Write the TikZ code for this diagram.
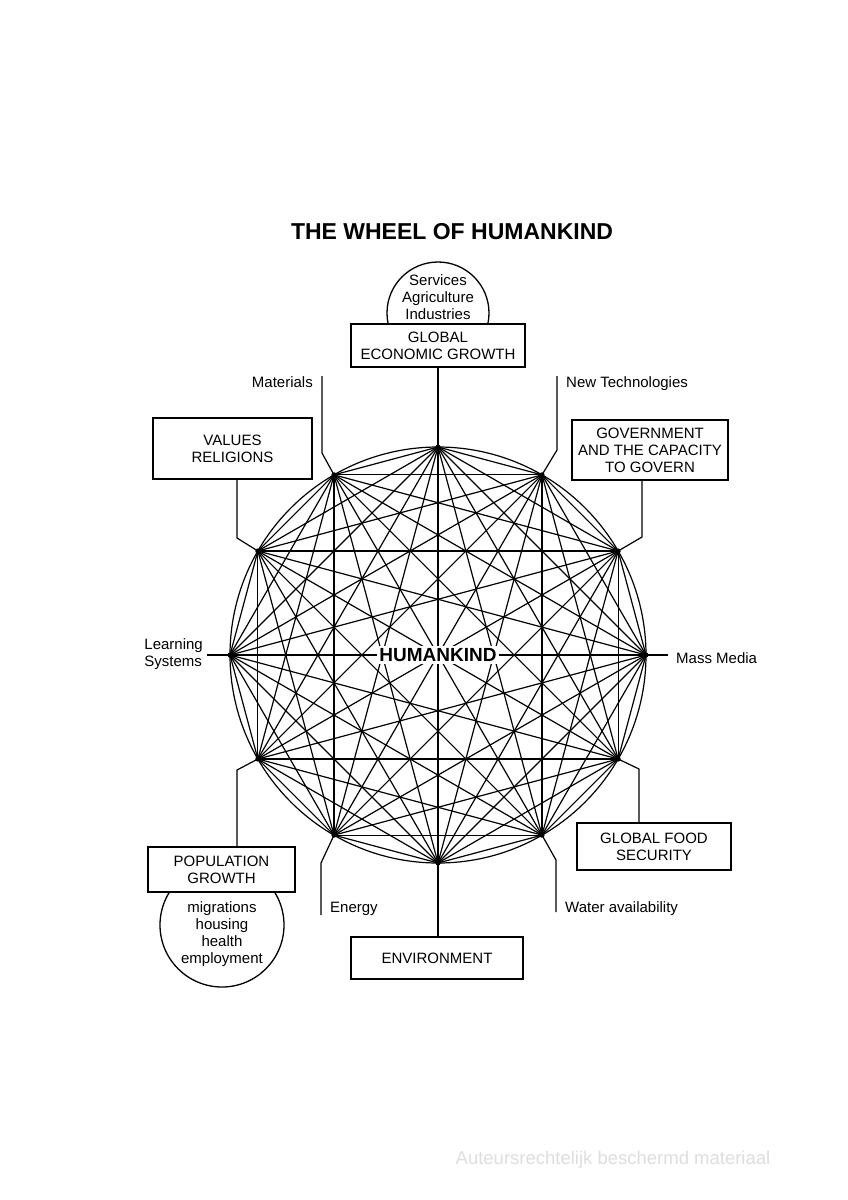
\documentclass[tikz,border=0pt]{standalone}
\usepackage{fontspec}
\setmainfont{Liberation Sans}
\usetikzlibrary{calc}
\begin{document}
\begin{tikzpicture}[x=1pt,y=-1pt,
  wire/.style={line width=1.2pt, black},
  boxnode/.style={draw, line width=1.6pt, fill=white, align=center, inner sep=0pt,
    font=\fontsize{15}{17}\selectfont},
  lbl/.style={font=\fontsize{15}{17}\selectfont, inner sep=0pt},
  ring/.style={draw, circle, line width=1.3pt, inner sep=0pt}]
\useasboundingbox (0,0) rectangle (848,1200);
\fill[white] (0,0) rectangle (848,1200);

% title
\node[font=\bfseries\fontsize{23}{27}\selectfont, inner sep=0pt] (title) at (452,232) {THE WHEEL OF HUMANKIND};

% wheel
\coordinate (c) at (438,655);
\foreach \k in {0,...,11} {
  \coordinate (p\k) at ($(c)+({-90+30*\k}:208)$);
}
\draw[wire] (c) circle[radius=208];
\foreach \i in {0,...,10} {
  \pgfmathtruncatemacro{\s}{\i+1}
  \foreach \j in {\s,...,11} {
    \draw[wire] (p\i) -- (p\j);
  }
}
\foreach \k in {0,...,11} { \fill (p\k) circle[radius=2.6]; }

\node[fill=white, inner sep=2.5pt, font=\bfseries\fontsize{19}{22}\selectfont] (hk) at (c) {HUMANKIND};

% top: dome and economic growth
\node[ring, minimum size=102pt] (dome) at (438,313) {};
\node[lbl, align=center] (sector) at (438,297) {Services\\Agriculture\\Industries};
\node[boxnode, minimum width=174pt, minimum height=43pt] (econ) at (438,345.5) {GLOBAL\\ECONOMIC GROWTH};
\draw[wire] (econ.south) -- (p0);

% materials
\node[lbl, anchor=base east] (mat) at (313,387) {Materials};
\coordinate (matTop) at (322,376);
\coordinate (matBend) at (322,453);
\draw[wire] (matTop) -- (matBend) -- (p11);

% new technologies
\node[lbl, anchor=base west] (tech) at (566,387) {New Technologies};
\coordinate (techTop) at (557,376);
\coordinate (techBend) at (557,450);
\draw[wire] (techTop) -- (techBend) -- (p1);

% values religions
\node[boxnode, minimum width=159pt, minimum height=61pt] (values) at (232.5,448.5) {VALUES\\RELIGIONS};
\coordinate (vb) at (237,538);
\draw[wire] (values.south -| vb) -- (vb) -- (p10);

% government
\node[boxnode, minimum width=156pt, minimum height=60pt] (gov) at (650,450) {GOVERNMENT\\AND THE CAPACITY\\TO GOVERN};
\coordinate (gb) at (642,537);
\draw[wire] (gov.south -| gb) -- (gb) -- (p2);

% learning systems
\node[lbl, anchor=east, align=left] (learn) at (203,654) {Learning\\Systems};
\coordinate (lt) at (207,655);
\draw[wire] (lt) -- (p9);

% mass media
\node[lbl, anchor=base west] (media) at (676,663) {Mass Media};
\coordinate (mt) at (668,655);
\draw[wire] (p3) -- (mt);

% population growth
\node[ring, minimum size=124pt] (popc) at (222,925) {};
\node[lbl, align=center] (popt) at (222,934) {migrations\\housing\\health\\employment};
\node[boxnode, minimum width=147pt, minimum height=45pt] (pop) at (221.5,869.5) {POPULATION\\GROWTH};
\coordinate (pb) at (237,770);
\draw[wire] (pop.north -| pb) -- (pb) -- (p8);

% energy
\node[lbl, anchor=base west] (energy) at (330,912) {Energy};
\coordinate (eTop) at (321,915);
\coordinate (eBend) at (321,863);
\draw[wire] (eTop) -- (eBend) -- (p7);

% environment
\node[boxnode, minimum width=172pt, minimum height=42pt] (env) at (437,958) {ENVIRONMENT};
\draw[wire] (p6) -- (env.north -| p6);

% water availability
\node[lbl, anchor=base west] (water) at (565,912) {Water availability};
\coordinate (wTop) at (556,912);
\coordinate (wBend) at (556,860);
\draw[wire] (wTop) -- (wBend) -- (p5);

% food security
\node[boxnode, minimum width=154pt, minimum height=47pt] (food) at (654,846.5) {GLOBAL FOOD\\SECURITY};
\coordinate (fb) at (639,769);
\draw[wire] (food.north -| fb) -- (fb) -- (p4);

% watermark
\node[text=black!13, inner sep=0pt, font=\fontsize{18.5}{22}\selectfont] (wm) at (613,1160) {Auteursrechtelijk beschermd materiaal};
\end{tikzpicture}
\end{document}
